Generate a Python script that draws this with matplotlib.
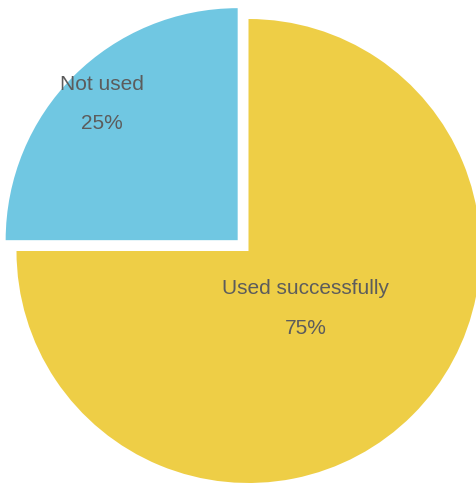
import numpy as np
import matplotlib
matplotlib.use("Agg")
import matplotlib.pyplot as plt

# Share of attempts
labels = ["Not used", "Used successfully"]
shares = [25, 75]

COLORS = ["#70C7E2", "#EECE46"]
TEXT_COLOR = "#5c5c5c"
FONT = ["Liberation Sans Narrow", "Liberation Sans", "DejaVu Sans"]

W, H = 477, 483
fig = plt.figure(figsize=(W / 100, H / 100), dpi=100)
ax = fig.add_axes([0, 0, 1, 1])

# unit pie; the disc centre and radius in pixels decide the limits
cx_px, cy_px, r_px = 248.5, 251, 232

wedges, _ = ax.pie(
    shares,
    colors=COLORS,
    startangle=90,
    explode=[0.066, 0.0],
    wedgeprops=dict(linewidth=0),
)

# label distance from each wedge's tip, as a fraction of the radius
label_r = [0.83, 0.35]
for w, lab, val, r in zip(wedges, labels, shares, label_r):
    mid = np.deg2rad((w.theta1 + w.theta2) / 2)
    cx, cy = w.center
    ax.text(cx + r * np.cos(mid), cy + r * np.sin(mid), f"{lab}\n{val}%",
            ha="center", va="center", fontsize=15, color=TEXT_COLOR,
            family=FONT, linespacing=2.35)

ax.set_xlim(-cx_px / r_px, (W - cx_px) / r_px)
ax.set_ylim(-(H - cy_px) / r_px, cy_px / r_px)
ax.set_aspect("equal")
ax.axis("off")

fig.savefig("out.png", dpi=100)
